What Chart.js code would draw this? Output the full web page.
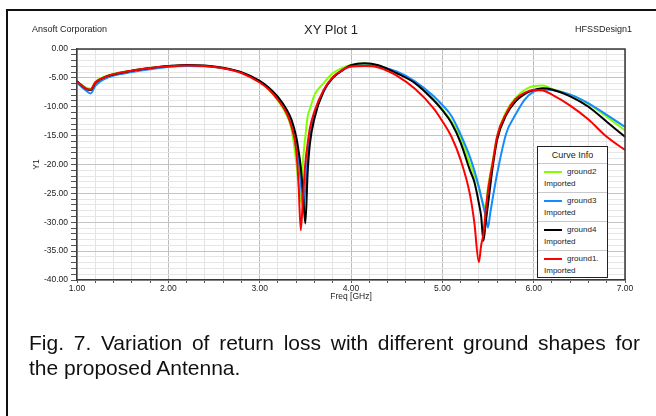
<!DOCTYPE html>
<html>
<head>
<meta charset="utf-8">
<script src="https://cdn.jsdelivr.net/npm/chart.js@4"></script>
<style>
body{margin:0;background:#fff;font-family:"Liberation Sans",Arial,sans-serif;}
#wrap{position:relative;width:656px;height:416px;overflow:hidden;background:#fff;}
#frame{position:absolute;left:6px;top:9px;width:700px;height:500px;border-left:2px solid #111;border-top:2px solid #111;}
#c{position:absolute;left:0;top:0;}
.lbl{position:absolute;white-space:nowrap;color:#222;font-size:9px;line-height:10px;}
#legend{position:absolute;left:537px;top:146px;width:69px;height:130px;border:1.5px solid #222;background:#fff;font-size:8px;color:#222;}
#legend .head{height:16px;line-height:16px;text-align:center;font-size:9px;}
#legend .item{position:relative;height:28px;border-top:1px solid #c8c8c8;}
#legend .swatch{position:absolute;left:6px;top:7px;width:18px;height:2px;}
#legend .name{position:absolute;left:29px;top:3px;line-height:10px;}
#legend .imp{position:absolute;left:6px;top:15px;line-height:10px;}
.cap{position:absolute;left:29px;width:611px;font-size:21px;line-height:25px;color:#111;white-space:nowrap;}
#cap1{top:330px;text-align:justify;text-align-last:justify;white-space:normal;}
#cap2{top:355px;}
</style>
</head>
<body>
<div id="wrap">
  <div id="frame"></div>
  <canvas id="c" width="656" height="416"></canvas>
  <div class="lbl" style="left:32px;top:24px;">Ansoft Corporation</div>
  <div class="lbl" style="left:231px;width:200px;top:22px;text-align:center;font-size:13px;line-height:16px;">XY Plot 1</div>
  <div class="lbl" style="left:575px;top:24px;">HFSSDesign1</div>
  <div id="legend"><div class="head">Curve Info</div></div>
  <div class="cap" id="cap1">Fig. 7. Variation of return loss with different ground shapes for</div>
  <div class="cap" id="cap2">the proposed Antenna.</div>
</div>
<script>
// frequency sweep points (GHz)
var freq = [1.0,1.05,1.1,1.15,1.2,1.3,1.4,1.6,1.8,2.0,2.2,2.4,2.6,2.8,3.0,3.1,3.2,3.3,3.35,3.4,
            3.425,3.45,3.475,3.5,3.525,3.55,3.6,3.7,3.8,3.9,4.0,4.15,4.3,4.5,4.7,4.9,5.0,5.1,5.2,5.3,
            5.35,5.4,5.425,5.45,5.475,5.5,5.525,5.55,5.6,5.7,5.8,5.9,6.0,6.1,6.2,6.4,6.6,6.8,7.0];

var ground2 = [-5.65,-6.2,-6.7,-6.9,-5.7,-4.8,-4.3,-3.75,-3.3,-3.0,-2.85,-2.95,-3.3,-4.1,-5.8,-7.0,-8.9,-11.6,-14.0,-19.5,
               -23.5,-26.5,-19.2,-15.2,-11.7,-10.4,-8.0,-5.9,-4.2,-3.3,-2.75,-2.5,-2.85,-4.1,-5.8,-8.6,-10.4,-12.5,-15.4,-19.8,
               -21.8,-24.0,-25.6,-26.8,-27.5,-23.9,-21.6,-19.6,-15.1,-10.8,-8.5,-7.1,-6.4,-6.3,-6.9,-7.9,-9.5,-11.7,-14.1];
var ground3 = [-5.8,-6.6,-7.2,-7.7,-6.4,-5.2,-4.6,-4.0,-3.5,-3.1,-2.95,-3.0,-3.35,-4.1,-5.6,-6.7,-8.4,-11.0,-12.8,-16.0,
               -19.0,-23.0,-27.5,-24.0,-18.5,-14.5,-11.3,-7.4,-5.0,-3.8,-3.0,-2.85,-3.0,-3.9,-5.6,-8.1,-9.7,-11.6,-14.8,-18.6,
               -21.0,-23.9,-25.6,-27.3,-29.0,-30.9,-28.4,-26.0,-21.6,-14.6,-11.4,-8.8,-7.4,-7.0,-7.1,-7.9,-9.4,-11.4,-13.5];
var ground4 = [-5.6,-6.3,-6.9,-7.1,-5.9,-4.9,-4.4,-3.75,-3.3,-2.95,-2.75,-2.85,-3.25,-4.0,-5.5,-6.7,-8.3,-10.6,-12.3,-15.2,
               -17.5,-20.4,-25.0,-30.2,-21.5,-16.4,-12.0,-7.3,-5.0,-3.7,-2.8,-2.45,-2.8,-4.2,-5.9,-8.8,-10.6,-12.8,-16.2,-20.9,
               -23.0,-26.7,-29.0,-33.2,-30.0,-26.9,-23.7,-20.6,-15.7,-11.4,-9.1,-7.8,-7.1,-6.8,-7.0,-8.2,-10.0,-12.6,-15.2];
var ground1 = [-5.65,-6.3,-6.9,-7.0,-5.8,-4.9,-4.35,-3.75,-3.3,-3.0,-2.85,-2.95,-3.35,-4.15,-5.8,-7.0,-8.8,-11.3,-13.5,-17.5,
               -23.0,-31.4,-25.5,-19.8,-16.4,-13.7,-10.8,-7.1,-4.9,-3.7,-3.05,-2.95,-3.2,-4.6,-6.9,-10.2,-12.5,-15.2,-19.2,-25.0,
               -30.0,-36.9,-34.0,-32.0,-28.0,-24.5,-22.0,-19.8,-15.1,-11.1,-8.7,-7.6,-7.1,-7.2,-7.9,-9.8,-12.2,-15.2,-17.5];

var seriesNames = ['ground2', 'ground3', 'ground4', 'ground1.'];
var seriesColors = ['rgb(128,255,0)', 'rgb(20,140,255)', 'rgb(0,0,0)', 'rgb(255,0,0)'];
var seriesData = [ground2, ground3, ground4, ground1];
var drawOrder = [3, 2, 1, 0]; // red on top

// grid / tick positions
var xTicks = [];
for (var i = 0; i <= 30; i++) xTicks.push(Math.round((1 + i * 0.2) * 10) / 10);
var yTicks = [];
for (var j = -40; j <= 0; j++) yTicks.push(j);

function isMajor(v, step) {
    return Math.abs(v / step - Math.round(v / step)) < 1e-6;
}

var datasets = seriesData.map(function(vals, k) {
    return {
        label: seriesNames[k],
        data: freq.map(function(f, n) { return {x: f, y: vals[n]}; }),
        borderColor: seriesColors[k],
        backgroundColor: seriesColors[k],
        borderWidth: 2,
        pointRadius: 0,
        cubicInterpolationMode: 'monotone',
        order: drawOrder[k]
    };
});

var framePlugin = {
    id: 'frame',
    afterDatasetsDraw: function(chart) {
        var a = chart.chartArea, c = chart.ctx;
        c.save();
        c.strokeStyle = '#3a3a3a';
        c.lineWidth = 1.5;
        c.beginPath();
        c.moveTo(a.left, a.top);
        c.lineTo(a.right, a.top);
        c.lineTo(a.right, a.bottom);
        c.stroke();
        c.restore();
    }
};

var ctx = document.getElementById('c').getContext('2d');
var chart = new Chart(ctx, {
    type: 'line',
    data: { datasets: datasets },
    plugins: [framePlugin],
    options: {
        responsive: false,
        animation: false,
        layout: { padding: { left: 17, top: 49, right: 31, bottom: 106 } },
        plugins: { legend: { display: false }, tooltip: { enabled: false } },
        scales: {
            x: {
                type: 'linear', min: 1, max: 7,
                afterBuildTicks: function(scale) { scale.ticks = xTicks.map(function(v) { return {value: v}; }); },
                afterFit: function(scale) { scale.height = 30; },
                ticks: {
                    autoSkip: false, maxRotation: 0, padding: 1, color: '#222',
                    font: { family: '"Liberation Sans", Arial', size: 8.5 },
                    callback: function(v) { return isMajor(v, 1) ? v.toFixed(2) : ''; }
                },
                grid: {
                    color: function(c) { return c.tick && isMajor(c.tick.value, 1) ? '#bcbcbc' : '#e3e3e3'; },
                    tickColor: '#555', tickLength: 3
                },
                border: { color: '#3a3a3a', width: 1.5 },
                title: {
                    display: true, text: 'Freq [GHz]', color: '#222',
                    font: { family: '"Liberation Sans", Arial', size: 8.5 },
                    padding: { top: 0, bottom: 8 }
                }
            },
            y: {
                type: 'linear', min: -40, max: 0,
                afterBuildTicks: function(scale) { scale.ticks = yTicks.map(function(v) { return {value: v}; }); },
                afterFit: function(scale) { scale.width = 60; },
                ticks: {
                    autoSkip: false, padding: 3, color: '#222',
                    font: { family: '"Liberation Sans", Arial', size: 8.5 },
                    callback: function(v) { return isMajor(v, 5) ? v.toFixed(2) : ''; }
                },
                grid: {
                    color: function(c) { return c.tick && isMajor(c.tick.value, 5) ? '#c4c4c4' : '#e6e6e6'; },
                    tickColor: '#555', tickLength: 6
                },
                border: { color: '#3a3a3a', width: 1.5 },
                title: {
                    display: true, text: 'Y1', color: '#222',
                    font: { family: '"Liberation Sans", Arial', size: 8.5 },
                    padding: { top: 15, bottom: 0 }
                }
            }
        }
    }
});

// "Curve Info" box built from the datasets
var box = document.getElementById('legend');
chart.data.datasets.forEach(function(ds) {
    var item = document.createElement('div');
    item.className = 'item';
    item.innerHTML = '<div class="swatch" style="background:' + ds.borderColor + '"></div>' +
                     '<div class="name">' + ds.label + '</div>' +
                     '<div class="imp">Imported</div>';
    box.appendChild(item);
});
</script>
</body>
</html>
